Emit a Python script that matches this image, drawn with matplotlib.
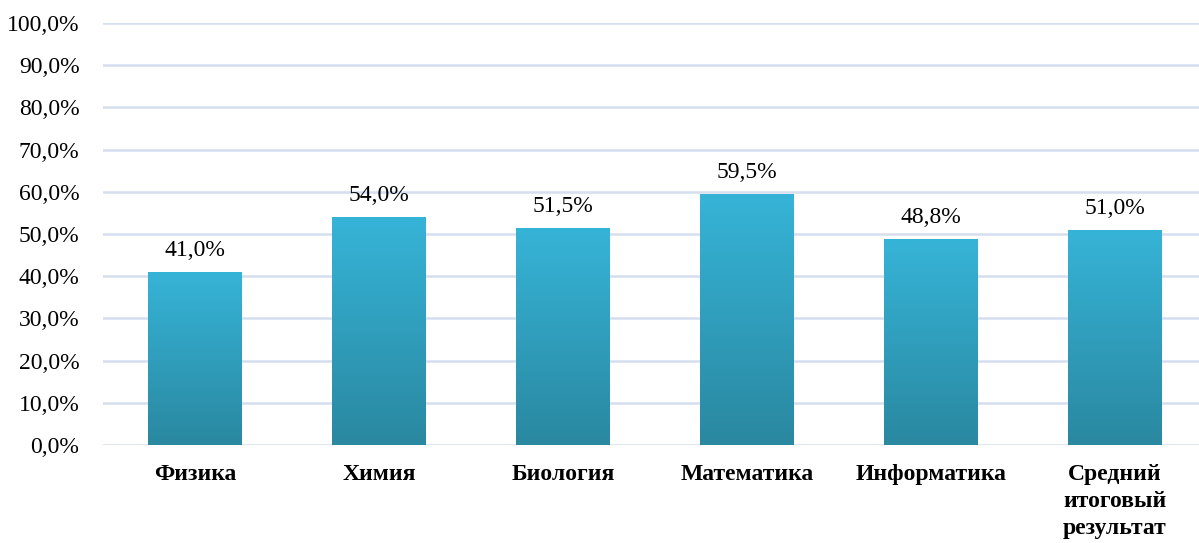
import matplotlib
matplotlib.use("Agg")
import matplotlib.pyplot as plt
import numpy as np
from matplotlib.colors import LinearSegmentedColormap
from matplotlib.ticker import FuncFormatter, MultipleLocator

categories = ["Физика", "Химия", "Биология", "Математика", "Информатика", "Средний\nитоговый\nрезультат"]
values = [41.0, 54.0, 51.5, 59.5, 48.8, 51.0]

plt.rcParams['font.family'] = ['Liberation Serif', 'DejaVu Serif']

fig = plt.figure(figsize=(11.99, 5.43), dpi=100)
ax = fig.add_axes([103/1199, 98/543, 1104/1199, 422/543])

x = np.arange(len(categories))
bars = ax.bar(x, values, width=0.51, color='none', edgecolor='none', zorder=3)

cmap = LinearSegmentedColormap.from_list('g', ['#2A88A0', '#36B4D8'])
grad = np.linspace(0, 1, 256).reshape(-1, 1)
for b in bars:
    x0, y0 = b.get_x(), b.get_y()
    w, h = b.get_width(), b.get_height()
    im = ax.imshow(grad, cmap=cmap, aspect='auto', origin='lower',
                   extent=[x0, x0 + w, y0, y0 + h], zorder=3)
    im.set_clip_path(b)

ax.set_xlim(-0.5, len(categories) - 0.5)
ax.set_ylim(0, 100)
ax.yaxis.set_major_locator(MultipleLocator(10))
ax.yaxis.set_major_formatter(FuncFormatter(lambda v, p: f"{v:.1f}".replace('.', ',') + '%'))
ax.grid(axis='y', color='#D5DFEF', linewidth=1.8, zorder=0)
ax.set_axisbelow(True)
for s in ax.spines.values():
    s.set_visible(False)
ax.tick_params(axis='both', length=0, labelsize=17)
ax.tick_params(axis='y', pad=17)
ax.tick_params(axis='x', pad=14)
ax.set_xticks(x)
ax.set_xticklabels(categories, fontweight='bold', linespacing=1.36)

for xi, v in zip(x, values):
    ax.annotate(f"{v:.1f}".replace('.', ',') + '%', (xi, v), xytext=(0, 8),
                textcoords='offset points', ha='center', va='bottom', fontsize=17)

fig.savefig('out.png', dpi=100)
